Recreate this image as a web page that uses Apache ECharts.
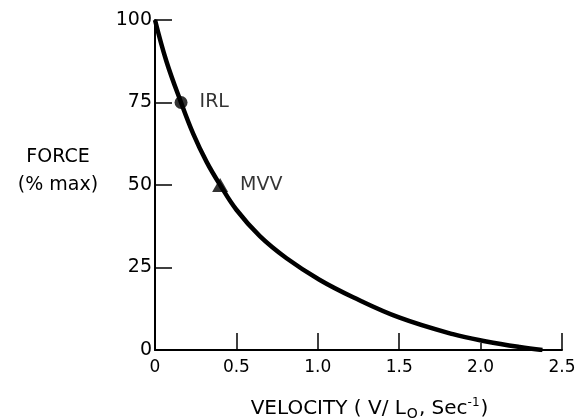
<!DOCTYPE html>
<html><head><meta charset="utf-8">
<script src="https://cdn.jsdelivr.net/npm/echarts@6/dist/echarts.min.js"></script>
<style>html,body{margin:0;padding:0;background:#fff}#chart{width:577px;height:419px}</style>
</head><body><div id="chart"></div>
<script>
// Force-velocity curve of muscle
const velocity = [0, 0.07, 0.16, 0.235, 0.317, 0.40, 0.50, 0.644, 0.808, 1.01, 1.217, 1.503, 1.83, 2.035, 2.24, 2.38];
const force = [100, 87.5, 75, 65.5, 57, 50, 42.5, 34.5, 27.8, 21.3, 16.0, 9.8, 4.8, 2.6, 0.9, 0];

// Marked operating points
const pointNames = ['IRL', 'MVV'];
const pointVelocity = [0.16, 0.40];
const pointForce = [75, 50];
const pointSymbols = ['circle', 'triangle'];
const pointSizes = [13, [16, 14]];

// Axis ticks and labels
const xLabelValues = [0, 0.5, 1.0, 1.5, 2.0, 2.5];
const xLabelTexts = ['0', '0.5', '1.0', '1.5', '2.0', '2.5'];
const xLongTicks = [0.5, 1.0, 1.5, 2.5];
const xShortTicks = [2.0];
const yTickStep = 25;
const yTitleLines = ['FORCE', '(% max)'];

const ink = '#000';
const font = 'DejaVu Sans';

const chart = echarts.init(document.getElementById('chart'), null, { renderer: 'canvas' });

const curve = velocity.map((v, i) => [v, force[i]]);
const points = pointNames.map((n, i) => ({
  name: n,
  value: [pointVelocity[i], pointForce[i]],
  symbol: pointSymbols[i],
  symbolSize: pointSizes[i]
}));

chart.setOption({
  animation: false,
  backgroundColor: '#fff',
  grid: { left: 155, right: 15, top: 20, bottom: 69, containLabel: false, outerBoundsMode: 'none' },
  // y-axis title, two centred lines left of the axis
  graphic: yTitleLines.map((t, i) => ({
    type: 'text', x: 58, y: 157 + i * 28,
    style: {
      text: t, fill: ink, font: '19px "DejaVu Sans"',
      textAlign: 'center', textVerticalAlign: 'middle'
    }
  })),
  xAxis: [{
    type: 'value', min: 0, max: 2.5, interval: 0.5,
    name: '{a|VELOCITY ( V/ L}{sub|O}{a|, Sec}{sup|-1}{a|)}',
    nameLocation: 'middle', nameGap: 46,
    nameTextStyle: {
      padding: [0, 0, 0, 22],
      rich: {
        a: { fontFamily: font, fontSize: 20, color: ink },
        sub: { fontFamily: font, fontSize: 14, color: ink, padding: [11, 1, 0, 1] },
        sup: { fontFamily: font, fontSize: 12, color: ink, padding: [0, 1, 11, 0] }
      }
    },
    axisLine: { onZero: false, lineStyle: { color: ink, width: 2 } },
    axisTick: { inside: true, length: 17, customValues: xLongTicks, lineStyle: { color: ink, width: 1.5 } },
    axisLabel: {
      customValues: xLabelValues, margin: 9, color: ink, fontFamily: font, fontSize: 17,
      formatter: v => xLabelTexts[xLabelValues.indexOf(v)]
    },
    splitLine: { show: false }
  }, {
    type: 'value', min: 0, max: 2.5, position: 'bottom',
    axisLine: { show: false },
    axisTick: { inside: true, length: 7, customValues: xShortTicks, lineStyle: { color: ink, width: 1.5 } },
    axisLabel: { show: false },
    splitLine: { show: false }
  }],
  yAxis: {
    type: 'value', min: 0, max: 100, interval: yTickStep,
    axisLine: { onZero: false, lineStyle: { color: ink, width: 2 } },
    axisTick: { inside: true, length: 17, lineStyle: { color: ink, width: 1.5 } },
    axisLabel: { margin: 3, color: ink, fontFamily: font, fontSize: 19 },
    splitLine: { show: false }
  },
  series: [{
    type: 'line',
    data: curve,
    smooth: 0.4,
    symbol: 'none',
    lineStyle: { color: '#000', width: 4.5 },
    z: 3
  }, {
    type: 'scatter',
    data: points,
    itemStyle: { color: '#000' },
    label: {
      show: true, position: 'right', distance: 12,
      formatter: p => p.name,
      color: ink, fontFamily: font, fontSize: 19
    },
    z: 4
  }]
});
</script>
</body></html>
